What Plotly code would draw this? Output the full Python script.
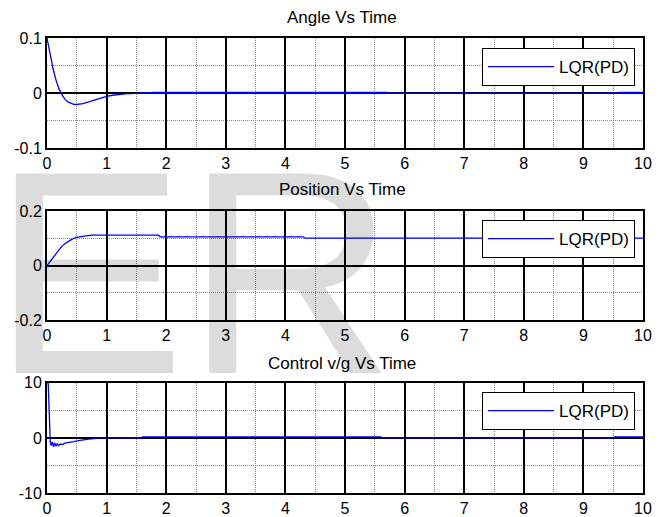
import plotly.graph_objects as go
from plotly.subplots import make_subplots

# ---- data ----
angle_t = [0, 0.05, 0.1, 0.15, 0.2, 0.25, 0.3, 0.35, 0.4, 0.45, 0.5, 0.55, 0.6, 0.7, 0.8,
           0.9, 1.0, 1.1, 1.2, 1.3, 1.5, 1.8, 1.8, 5.7, 5.7, 9.6, 9.6, 10]
angle_y = [0.1, 0.072, 0.045, 0.024, 0.008, -0.003, -0.011, -0.016, -0.019, -0.0205, -0.0208,
           -0.0203, -0.019, -0.016, -0.0125, -0.009, -0.006, -0.004, -0.0025, -0.0015, -0.0005,
           0, 0.0012, 0.0012, 0, 0, 0.0012, 0.0012]

pos_t = [0, 0.05, 0.1, 0.15, 0.2, 0.25, 0.3, 0.35, 0.4, 0.45, 0.5, 0.6, 0.7, 0.75, 1.87, 1.9,
         4.3, 4.33, 10]
pos_y = [0, 0.014, 0.03, 0.046, 0.059, 0.071, 0.08, 0.088, 0.094, 0.099, 0.103, 0.107, 0.11,
         0.111, 0.111, 0.105, 0.105, 0.1, 0.1]

ctrl_t = [0, 0.02, 0.055, 0.07, 0.09, 0.11, 0.13, 0.15, 0.17, 0.19, 0.22, 0.26, 0.3, 0.37,
          0.45, 0.55, 0.62, 0.7, 0.83, 0.85, 1.6, 1.6, 5.6, 5.62, 9.5, 9.52, 10]
ctrl_y = [10, 10, -0.8, -1.4, -0.7, -1.6, -0.9, -1.5, -1.0, -1.4, -1.1, -1.2, -0.95, -0.85,
          -0.67, -0.45, -0.3, -0.2, -0.07, 0, 0, 0.2, 0.2, 0, 0, 0.2, 0.2]

titles = ["Angle Vs Time", "Position Vs Time", "Control v/g Vs Time"]
series_name = "LQR(PD)"
x_ticks = [0, 1, 2, 3, 4, 5, 6, 7, 8, 9, 10]
y_ranges = [[-0.1, 0.1], [-0.2, 0.2], [-10, 10]]
y_ticks = [[-0.1, 0, 0.1], [-0.2, 0, 0.2], [-10, 0, 10]]
y_ticktext = [["-0.1", "0", "0.1"], ["-0.2", "0", "0.2"], ["-10", "0", "10"]]
y_minor = [0.05, 0.1, 5]

FONT = "Liberation Sans, Arial, sans-serif"
BLUE = "#0000ff"
MINOR = "#8a8a8a"

fig = make_subplots(rows=3, cols=1)
domains = [[0.758, 1.0], [0.380, 0.620], [0.0, 0.242]]
data = [(angle_t, angle_y), (pos_t, pos_y), (ctrl_t, ctrl_y)]
legends = ["legend", "legend2", "legend3"]

for i, (t, y) in enumerate(data):
    fig.add_trace(go.Scatter(x=t, y=y, mode="lines", name=series_name,
                             line=dict(color=BLUE, width=1.3),
                             legend=legends[i], showlegend=True), row=i + 1, col=1)

for i in range(3):
    r = i + 1
    fig.update_xaxes(row=r, col=1, range=[0, 10], tickvals=x_ticks, automargin=False,
                     showgrid=True, gridcolor="black", gridwidth=2,
                     minor=dict(dtick=0.5, showgrid=True, gridcolor=MINOR, gridwidth=1, griddash="1px,1px"),
                     showline=True, linecolor="black", linewidth=2, mirror=True,
                     zeroline=False, ticks="", ticklabelstandoff=0,
                     tickfont=dict(family=FONT, size=16, color="black"),
                     fixedrange=True)
    fig.update_yaxes(row=r, col=1, range=y_ranges[i], tickvals=y_ticks[i], ticktext=y_ticktext[i],
                     domain=domains[i], automargin=False,
                     showgrid=True, gridcolor="black", gridwidth=2,
                     minor=dict(dtick=y_minor[i], tick0=0, showgrid=True, gridcolor=MINOR, gridwidth=1, griddash="1px,1px"),
                     showline=True, linecolor="black", linewidth=2, mirror=True,
                     zeroline=False, ticks="", tickfont=dict(family=FONT, size=16, color="black"),
                     fixedrange=True)

title_y = [1.046, 0.666, 0.2857]
annotations = []
for i in range(3):
    annotations.append(dict(text=titles[i], xref="paper", yref="paper", x=0.495, y=title_y[i],
                            xanchor="center", yanchor="middle", showarrow=False,
                            font=dict(family=FONT, size=17, color="black")))
# watermark
annotations.append(dict(text="ER", xref="paper", yref="paper", x=0.246, y=0.486,
                        xanchor="center", yanchor="middle", showarrow=False,
                        font=dict(family=FONT, size=290, color="rgba(0,0,0,0.137)")))

leg_common = dict(bgcolor="white", bordercolor="black", borderwidth=1,
                  font=dict(family=FONT, size=17, color="black"),
                  xanchor="right", yanchor="top", x=0.9866, itemwidth=66)
fig.update_layout(
    width=664, height=517, autosize=False,
    margin=dict(l=47, r=21, t=38, b=24, autoexpand=False),
    paper_bgcolor="white", plot_bgcolor="white",
    annotations=annotations,
    legend=dict(leg_common, y=0.978),
    legend2=dict(leg_common, y=0.600),
    legend3=dict(leg_common, y=0.222),
)

fig.write_html("out.html", config={"displayModeBar": False},
               post_script="document.body.style.margin='0';")
